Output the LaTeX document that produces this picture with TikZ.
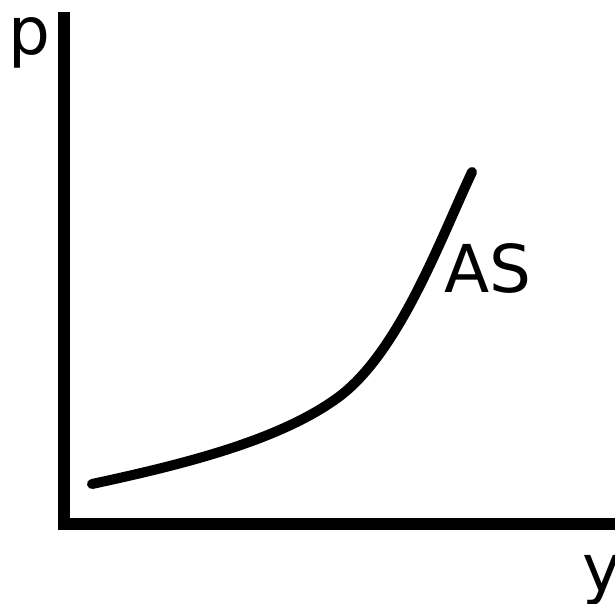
\documentclass[tikz,border=0pt]{standalone}
\usepackage{fontspec}
\setmainfont{DejaVu Sans}
\begin{document}
\begin{tikzpicture}[x=1pt,y=-1pt,
  axisline/.style={line width=12pt,line cap=butt,line join=miter},
  curveline/.style={line width=10pt,line cap=round,line join=round},
  lbl/.style={inner sep=0pt,anchor=base west,font=\fontsize{66}{70}\selectfont}]
\useasboundingbox[fill=white] (0,0) rectangle (615,603);
\coordinate (top) at (64,12);
\coordinate (corner) at (64,524);
\coordinate (right) at (615,524);
\draw[axisline] (top) -- (corner) -- (right);
\coordinate (c0) at (92,484);
\coordinate (c1) at (340,396);
\coordinate (c2) at (472,172);
\draw[curveline] (c0) .. controls (180,465) and (280,441) .. (c1)
  .. controls (400,350) and (440,240) .. (c2);
\node[lbl] (p) at (8,54) {p};
\node[lbl] (as) at (444,292) {AS};
\node[lbl] (y) at (582,591) {y};
\end{tikzpicture}
\end{document}
